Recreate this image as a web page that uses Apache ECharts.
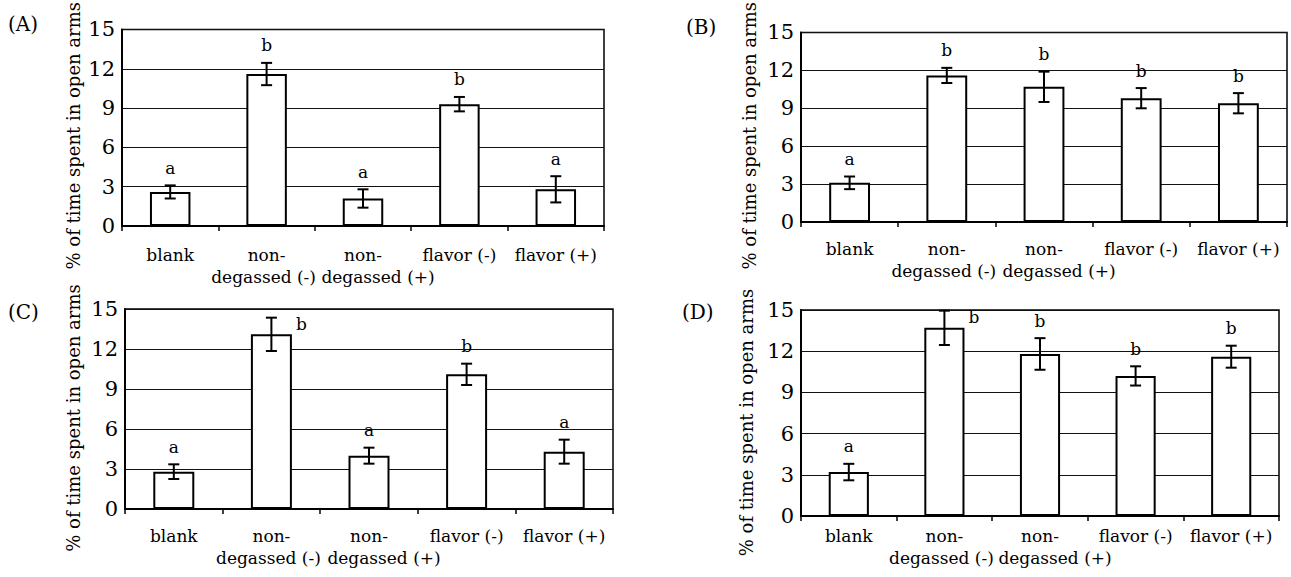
<!DOCTYPE html>
<html lang="en">
<head>
  <meta charset="UTF-8">
  <title>% of time spent in open arms</title>
  <script src="https://cdn.jsdelivr.net/npm/echarts@6/dist/echarts.min.js"></script>
  <style>
    body { margin: 0; background: #fff; }
    #chart { width: 1291px; height: 577px; }
  </style>
</head>
<body>
  <div id="chart"></div>
  <script>
    // categories shared by the four panels
    const categories = ['blank', 'non-\ndegassed (-)', 'non-\ndegassed (+)', 'flavor (-)', 'flavor (+)'];
    const yName = '% of time spent in open arms';

    // panel A
    const meansA = [2.6, 11.6, 2.1, 9.3, 2.8];
    const errA = [0.5, 0.85, 0.7, 0.55, 1.0];
    const lettersA = ['a', 'b', 'a', 'b', 'a'];
    // panel B
    const meansB = [3.1, 11.6, 10.7, 9.8, 9.4];
    const errB = [0.5, 0.6, 1.2, 0.8, 0.8];
    const lettersB = ['a', 'b', 'b', 'b', 'b'];
    // panel C
    const meansC = [2.8, 13.1, 4.0, 10.1, 4.3];
    const errC = [0.55, 1.25, 0.6, 0.8, 0.9];
    const lettersC = ['a', 'b', 'a', 'b', 'a'];
    // panel D
    const meansD = [3.2, 13.7, 11.8, 10.2, 11.6];
    const errD = [0.6, 1.25, 1.15, 0.7, 0.8];
    const lettersD = ['a', 'b', 'b', 'b', 'b'];

    const panelTags = ['(A)', '(B)', '(C)', '(D)'];

    // layout only (pixels)
    const layout = [
      { left: 122, top: 28, width: 482, height: 198, tagX: 8, tagY: 14, nameGap: 40, namePad: 16, labelMargin: 18 },
      { left: 801, top: 21, width: 486, height: 201, tagX: 686, tagY: 17, nameGap: 43, namePad: 17, labelMargin: 16 },
      { left: 125, top: 309, width: 488, height: 200, tagX: 8, tagY: 302, nameGap: 43, namePad: 18, labelMargin: 16 },
      { left: 801, top: 310, width: 478, height: 206, tagX: 682, tagY: 302, nameGap: 46, namePad: 19, labelMargin: 9 }
    ];

    const panels = [
      { means: meansA, errs: errA, letters: lettersA },
      { means: meansB, errs: errB, letters: lettersB },
      { means: meansC, errs: errC, letters: lettersC },
      { means: meansD, errs: errD, letters: lettersD }
    ];

    const FONT = 'DejaVu Serif';
    const BAR_RATIO = 0.42;

    // two-line labels: the second lines are nudged apart as in the original
    function catLabel(value, idx) {
      const parts = value.split('\n');
      if (parts.length === 1) return value;
      return parts[0] + '\n' + '{' + (idx === 2 ? 'right' : 'left') + '|' + parts[1] + '}';
    }

    const chart = echarts.init(document.getElementById('chart'), null, { renderer: 'svg' });

    const option = {
      backgroundColor: '#fff',
      animation: false,
      title: [],
      grid: [],
      xAxis: [],
      yAxis: [],
      series: []
    };

    panels.forEach((p, i) => {
      const L = layout[i];
      option.title.push({
        text: panelTags[i], left: L.tagX, top: L.tagY, padding: 0,
        textStyle: { fontFamily: FONT, fontSize: 20, fontWeight: 'normal', color: '#000' }
      });
      option.grid.push({
        left: L.left, top: L.top, width: L.width, height: L.height,
        show: true, borderColor: '#000', borderWidth: 1.5, backgroundColor: 'transparent'
      });
      option.xAxis.push({
        type: 'category', gridIndex: i, data: categories,
        axisLine: { lineStyle: { color: '#000', width: 2 } },
        axisTick: { show: true, length: 5, lineStyle: { color: '#000', width: 1.5 } },
        axisLabel: {
          interval: 0, margin: L.labelMargin, color: '#000',
          fontFamily: FONT, fontSize: 17, lineHeight: 22,
          formatter: catLabel,
          rich: {
            left: { fontFamily: FONT, fontSize: 17, lineHeight: 22, color: '#000', padding: [0, 6, 0, 0] },
            right: { fontFamily: FONT, fontSize: 17, lineHeight: 22, color: '#000', padding: [0, 0, 0, 30] }
          }
        },
        splitLine: { show: false }
      });
      option.yAxis.push({
        type: 'value', gridIndex: i, min: 0, max: 15, interval: 3,
        name: yName, nameLocation: 'middle', nameGap: L.nameGap,
        nameTextStyle: { fontFamily: FONT, fontSize: 18, color: '#000', padding: [0, L.namePad, 0, 0] },
        axisLine: { show: true, lineStyle: { color: '#000', width: 2 } },
        axisTick: { show: false },
        axisLabel: { color: '#000', fontFamily: FONT, fontSize: 21, margin: 7 },
        splitLine: { show: true, lineStyle: { color: '#111', width: 1 } }
      });
      option.series.push({
        type: 'bar', xAxisIndex: i, yAxisIndex: i,
        data: p.means,
        barWidth: (BAR_RATIO * 100) + '%',
        itemStyle: { color: '#fff', borderColor: '#000', borderWidth: 2 },
        z: 3
      });
      option.series.push({
        type: 'custom', xAxisIndex: i, yAxisIndex: i,
        data: p.means.map((m, k) => [k, m, p.errs[k]]),
        z: 4,
        renderItem: function (params, api) {
          const k = api.value(0);
          const m = api.value(1);
          const e = api.value(2);
          const hi = api.coord([k, m + e]);
          const lo = api.coord([k, m - e]);
          const barTop = api.coord([k, m]);
          const band = api.size([1, 0])[0];
          const half = 5.5;
          const style = { stroke: '#000', lineWidth: 2 };
          const letter = p.letters[params.dataIndex];
          let text;
          if (hi[1] - 20 < params.coordSys.y) {
            // no room above: put the letter beside the bar
            text = {
              type: 'text',
              style: {
                text: letter, x: hi[0] + band * BAR_RATIO / 2 + 4, y: barTop[1] - 2,
                align: 'left', verticalAlign: 'bottom',
                fontFamily: FONT, fontSize: 17, fill: '#000'
              }
            };
          } else {
            text = {
              type: 'text',
              style: {
                text: letter, x: hi[0], y: hi[1] - 9,
                align: 'center', verticalAlign: 'bottom',
                fontFamily: FONT, fontSize: 17, fill: '#000'
              }
            };
          }
          return {
            type: 'group',
            children: [
              { type: 'line', shape: { x1: hi[0], y1: hi[1], x2: lo[0], y2: lo[1] }, style: style },
              { type: 'line', shape: { x1: hi[0] - half, y1: hi[1], x2: hi[0] + half, y2: hi[1] }, style: style },
              { type: 'line', shape: { x1: lo[0] - half, y1: lo[1], x2: lo[0] + half, y2: lo[1] }, style: style },
              text
            ]
          };
        }
      });
    });

    chart.setOption(option);
    window.addEventListener('resize', function () { chart.resize(); });
  </script>
</body>
</html>
